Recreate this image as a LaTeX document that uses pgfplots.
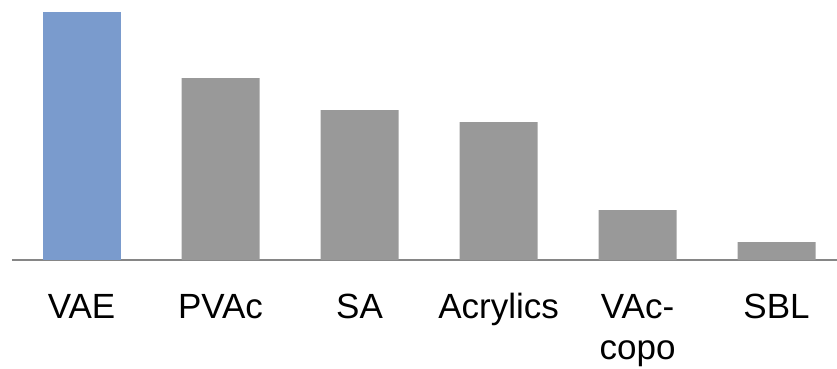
\documentclass[border=0pt]{standalone}
\usepackage{fontspec}
\setmainfont{Liberation Sans}
\usepackage{pgfplots}
\pgfplotsset{compat=1.18}
\definecolor{barblue}{RGB}{122,155,205}
\definecolor{bargrey}{RGB}{153,153,153}
\definecolor{baseline}{RGB}{134,134,134}
\begin{document}
\begin{tikzpicture}
\useasboundingbox (-12pt,-108pt) rectangle (825pt,260pt);
\begin{axis}[
  scale only axis,
  width=825pt, height=260pt,
  xmin=-0.5, xmax=5.435,
  ymin=0, ymax=260,
  axis x line=bottom,
  axis y line=none,
  x axis line style={draw=baseline, line width=2pt, -},
  ytick=\empty,
  xtick={0,1,2,3,4,5},
  xticklabels={VAE,PVAc,SA,Acrylics,{\begin{tabular}[t]{@{}c@{}}VAc-\\copo\end{tabular}},SBL},
  major tick length=0pt,
  xticklabel style={anchor=base, yshift=-58pt,
    font=\fontsize{35}{41}\selectfont},
  clip=false,
]
\addplot[ybar, bar width=78pt, fill=barblue, draw=none] coordinates {(0,248)};
\addplot[ybar, bar width=78pt, fill=bargrey, draw=none] coordinates {
  (1,182) (2,150) (3,138) (4,50) (5,18)};
\end{axis}
\end{tikzpicture}
\end{document}
